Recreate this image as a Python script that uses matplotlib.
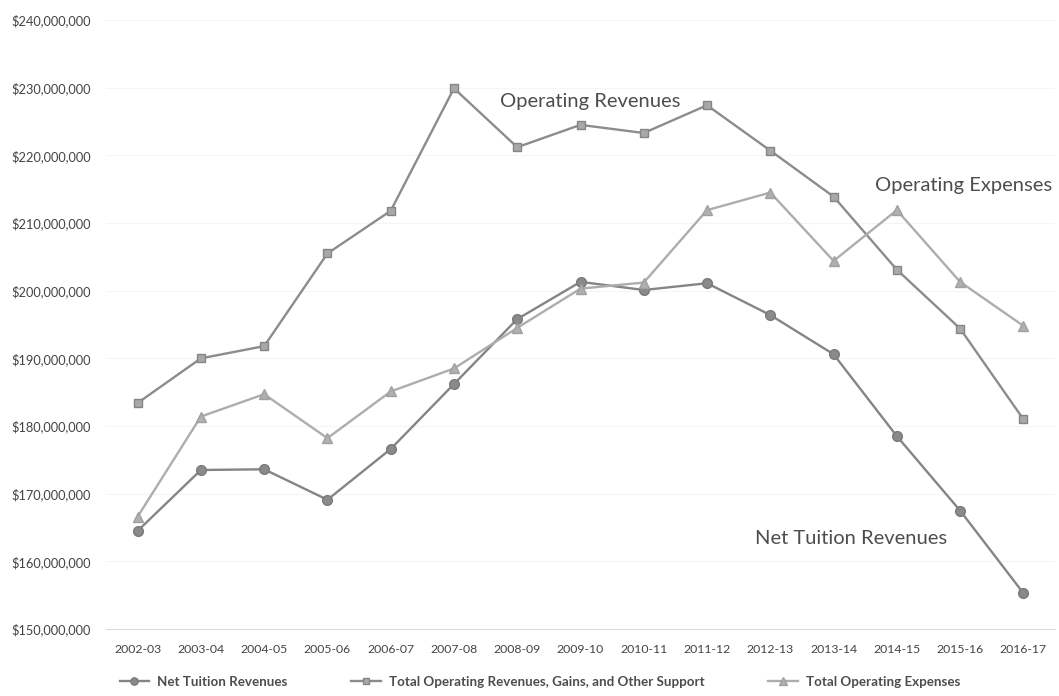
import matplotlib
matplotlib.use("Agg")
import matplotlib.pyplot as plt
from matplotlib.ticker import FuncFormatter, MultipleLocator

years = ["2002-03", "2003-04", "2004-05", "2005-06", "2006-07", "2007-08", "2008-09",
         "2009-10", "2010-11", "2011-12", "2012-13", "2013-14", "2014-15", "2015-16", "2016-17"]

net_tuition = [164.5, 173.5, 173.6, 169.1, 176.6, 186.2, 195.8, 201.3, 200.1, 201.1,
               196.4, 190.6, 178.5, 167.5, 155.3]
total_op_rev = [183.4, 190.0, 191.8, 205.5, 211.8, 229.9, 221.2, 224.5, 223.3, 227.4,
                220.7, 213.9, 203.1, 194.4, 181.0]
total_op_exp = [166.6, 181.4, 184.7, 178.2, 185.1, 188.5, 194.5, 200.3, 201.2, 211.9,
                214.5, 204.4, 211.9, 201.3, 194.8]

series_names = ["Net Tuition Revenues",
                "Total Operating Revenues, Gains, and Other Support",
                "Total Operating Expenses"]

plt.rcParams['font.family'] = ['Lato', 'DejaVu Sans']

fig = plt.figure(figsize=(10.59, 6.96), dpi=100)
ax = fig.add_axes([106 / 1059, 67 / 696, 949 / 1059, 609 / 696])

x = list(range(len(years)))
scale = 1e6
ax.plot(x, [v * scale for v in net_tuition], color="#858585", lw=1.7,
        marker="o", ms=7, mfc="#8a8a8a", mec="#7a7a7a", label=series_names[0], zorder=3)
ax.plot(x, [v * scale for v in total_op_rev], color="#8c8c8c", lw=1.7,
        marker="s", ms=6, mfc="#a8a8a8", mec="#858585", label=series_names[1], zorder=3)
ax.plot(x, [v * scale for v in total_op_exp], color="#adadad", lw=1.7,
        marker="^", ms=7, mfc="#b0b0b0", mec="#a0a0a0", label=series_names[2], zorder=3)

ax.set_xlim(-0.5, len(years) - 0.5)
ax.set_ylim(150e6, 240e6)
ax.yaxis.set_major_locator(MultipleLocator(10e6))
ax.yaxis.set_major_formatter(FuncFormatter(lambda v, p: "${:,.0f}".format(v)))
ax.set_xticks(x)
ax.set_xticklabels(years)

ax.grid(axis="y", color="#f5f5f5", lw=0.8)
ax.set_axisbelow(True)
for s in ["top", "right", "left"]:
    ax.spines[s].set_visible(False)
ax.spines["bottom"].set_color("#dcdcdc")
ax.tick_params(axis="both", length=0, colors="#444444")
ax.tick_params(axis="y", pad=11, labelsize=9.2)
ax.tick_params(axis="x", pad=11, labelsize=8.8)

ann_kw = dict(fontsize=14.5, color="#4d4d4d", va="center", ha="left")
ax.text(5.73, 228.0e6, "Operating Revenues", **ann_kw)
ax.text(11.66, 215.6e6, "Operating Expenses", **ann_kw)
ax.text(9.76, 163.4e6, "Net Tuition Revenues", **ann_kw)

leg = ax.legend(loc="center", bbox_to_anchor=(0.457, -0.087), ncol=3, frameon=False,
                prop={"size": 9.6, "weight": "bold"}, handlelength=2.2,
                handletextpad=0.6, columnspacing=4.8, markerscale=0.75)
for t in leg.get_texts():
    t.set_color("#4d4d4d")

fig.savefig("out.png", dpi=100, facecolor="white")
